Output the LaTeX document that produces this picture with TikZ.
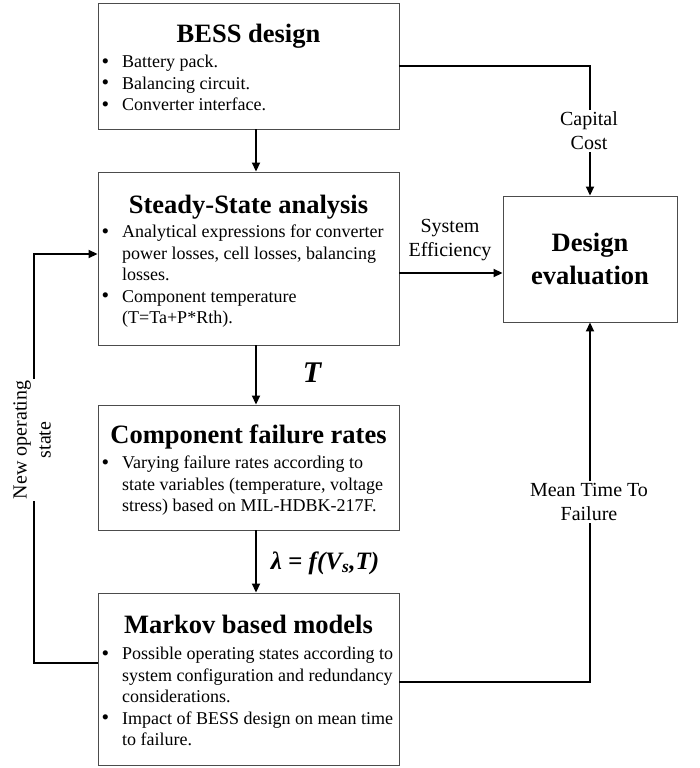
\documentclass[tikz,border=0pt]{standalone}
\usepackage{fontspec}
\setmainfont{Liberation Serif}
\usetikzlibrary{arrows.meta}
\newcommand{\bul}{\makebox[21pt][l]{\hspace*{0.5pt}\raisebox{-0.4pt}{\scalebox{1.2}{\textbullet}}}}
\newcommand{\ind}{\hspace*{21pt}}
\begin{document}
\begin{tikzpicture}[x=1pt,y=-1pt,
  box/.style={draw=black!70, line width=0.9pt, minimum width=301pt, inner sep=0pt},
  ttl/.style={font=\fontsize{26.5}{32}\selectfont\bfseries, inner sep=0pt, anchor=base},
  body/.style={font=\fontsize{18}{21.5}\selectfont, inner sep=0pt, align=left, anchor=north west},
  lbl/.style={font=\fontsize{20}{24}\selectfont, align=center, inner sep=2pt},
  conn/.style={line width=1.8pt, black},
  arr/.style={conn, -{Triangle[length=9pt,width=8pt]}}
]
\useasboundingbox (0,0) rectangle (700,768);

% boxes
\node[box, minimum height=126pt] (bess) at (248.5,66) {};
\node[box, minimum height=173pt] (steady) at (248.5,258.5) {};
\node[box, minimum height=125pt] (fail) at (248.5,467.5) {};
\node[box, minimum height=172pt] (markov) at (248.5,679) {};
\node[draw=black!70, line width=0.9pt, minimum width=174pt, minimum height=126pt,
      align=center, font=\fontsize{26.5}{33}\selectfont\bfseries] (eval) at (590,259) {Design\\evaluation};

% titles
\node[ttl] (t1) at (248.5,43) {BESS design};
\node[ttl] (t2) at (248.5,213) {Steady-State analysis};
\node[ttl] (t3) at (248.5,443) {Component failure rates};
\node[ttl] (t4) at (248.5,633.5) {Markov based models};

% bodies
\node[body] (b1) at (101,55) {\bul Battery pack.\\\bul Balancing circuit.\\\bul Converter interface.};
\node[body] (b2) at (101,225) {\bul Analytical expressions for converter\\\ind power losses, cell losses, balancing\\\ind losses.\\\bul Component temperature\\\ind (T=Ta+P*Rth).};
\node[body] (b3) at (101,456) {\bul Varying failure rates according to\\\ind state variables (temperature, voltage\\\ind stress) based on MIL-HDBK-217F.};
\node[body] (b4) at (101,647) {\bul Possible operating states according to\\\ind system configuration and redundancy\\\ind considerations.\\\bul Impact of BESS design on mean time\\\ind to failure.};

% helper coordinates
\coordinate (vx) at (256,0);
\coordinate (se) at (0,273);
\coordinate (mr) at (0,682);
\coordinate (ml) at (0,663);
\coordinate (lx) at (34,0);
\coordinate (sl) at (0,254);

% vertical chain
\draw[arr] (bess.south -| vx) -- (steady.north -| vx);
\draw[arr] (steady.south -| vx) -- (fail.north -| vx);
\draw[arr] (fail.south -| vx) -- (markov.north -| vx);

% to design evaluation
\draw[arr] (bess.east) -| (eval.north);
\draw[arr] (steady.east |- se) -- (eval.west |- se);
\draw[arr] (markov.east |- mr) -| (eval.south);

% feedback loop
\draw[arr] (markov.west |- ml) -- (lx |- ml) -- (lx |- sl) -- (steady.west |- sl);

% labels
\node[lbl, fill=white, minimum width=60pt] (capc) at (589,131) {Capital\\Cost};
\node[lbl] (syse) at (450,240) {System\\Efficiency};
\node[lbl, fill=white] (mttf) at (589,502) {Mean Time To\\Failure};
\node[lbl, fill=white, rotate=90] (nos) at (32,440) {New operating\\state};
\node[font=\fontsize{30}{30}\selectfont\bfseries\itshape, inner sep=0pt] (tl) at (312,373) {T};
\node[font=\fontsize{25}{25}\selectfont\bfseries\itshape, inner sep=0pt] (lam) at (325,563) {λ = f(V\textsubscript{s},T)};
\end{tikzpicture}
\end{document}
